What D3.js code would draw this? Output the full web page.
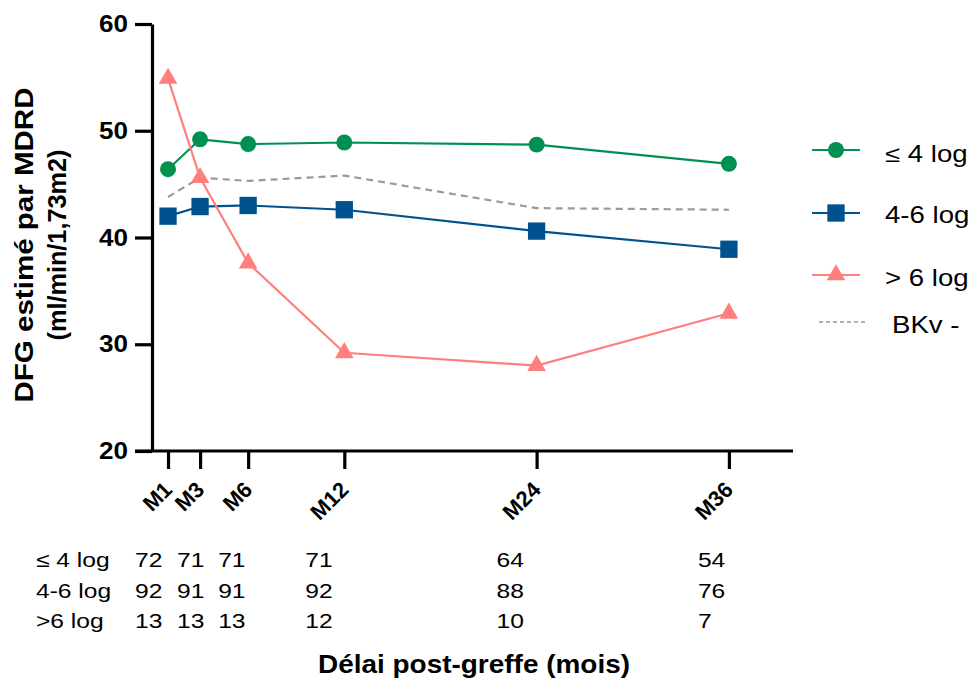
<!DOCTYPE html>
<html>
<head>
<meta charset="utf-8">
<script src="https://cdn.jsdelivr.net/npm/d3@7"></script>
<style>
  body { margin: 0; background: #fff; }
  svg { display: block; font-family: "Liberation Sans", Arial, sans-serif; }
</style>
</head>
<body>
<div id="chart"></div>
<script>
// months post-graft and their tick labels
const months = [1, 3, 6, 12, 24, 36];
const tickLabels = ['M1', 'M3', 'M6', 'M12', 'M24', 'M36'];

// DFG (ml/min/1,73m2) per BK viral load group
const lowLoad = [46.4, 49.2, 48.75, 48.9, 48.7, 46.9];    // ≤ 4 log
const midLoad = [42.0, 42.9, 43.0, 42.6, 40.6, 38.9];    // 4-6 log
const highLoad = [54.9, 45.6, 37.6, 29.2, 28.0, 32.9];   // > 6 log
const bkvNeg = [43.8, 45.6, 45.3, 45.8, 42.75, 42.6];    // BKv -

// patients at risk
const nLow = [72, 71, 71, 71, 64, 54];
const nMid = [92, 91, 91, 92, 88, 76];
const nHigh = [13, 13, 13, 12, 10, 7];

const yTicks = [20, 30, 40, 50, 60];

const W = 974, H = 683;
const FONT = '"Liberation Sans", Arial, sans-serif';
const STRETCH = 1.2; // text in the original is a bit wider than Arial

const svg = d3.select('#chart').append('svg')
    .attr('width', W)
    .attr('height', H);

const x = d3.scaleLinear().domain([0, 40]).range([152, 793]);
const y = d3.scaleLinear().domain([20, 60]).range([451, 24]);

// axes
const yAxis = svg.append('g')
    .attr('transform', `translate(${x(0)},0)`)
    .call(d3.axisLeft(y).tickValues(yTicks).tickSize(17).tickPadding(7).tickSizeOuter(0));
yAxis.select('.domain').attr('stroke-width', 3.2);
yAxis.selectAll('.tick line').attr('stroke-width', 3.2);
yAxis.selectAll('.tick text')
    .attr('font-family', FONT)
    .attr('font-weight', 'bold')
    .attr('font-size', 24)
    .attr('fill', '#000')
    .attr('textLength', 29)
    .attr('lengthAdjust', 'spacingAndGlyphs');

const xAxis = svg.append('g')
    .attr('transform', `translate(0,${y(20)})`)
    .call(d3.axisBottom(x).tickValues(months).tickSize(18).tickFormat((d, i) => tickLabels[i]).tickSizeOuter(0));
xAxis.select('.domain').attr('stroke-width', 3.2).attr('d', `M${x(0) - 17},0H${x(40)}`);
xAxis.selectAll('.tick line').attr('stroke-width', 3.2);
xAxis.selectAll('.tick text')
    .attr('font-family', FONT)
    .attr('font-weight', 'bold')
    .attr('font-size', 22)
    .attr('fill', '#000')
    .attr('text-anchor', 'end')
    .attr('dy', null)
    .attr('y', 0)
    .attr('transform', 'translate(5,40) rotate(-45)');

// series
const series = [
    { name: 'BKv -', values: bkvNeg, color: '#9a9a9a', dash: '7,5', symbol: null },
    { name: '≤ 4 log', values: lowLoad, color: '#009150', dash: null, symbol: 'circle' },
    { name: '4-6 log', values: midLoad, color: '#00528f', dash: null, symbol: 'square' },
    { name: '> 6 log', values: highLoad, color: '#ff7f7c', dash: null, symbol: 'triangle' },
];

const symbolFor = {
    circle: d3.symbol().type(d3.symbolCircle).size(200),
    square: d3.symbol().type(d3.symbolSquare).size(300),
    triangle: d3.symbol().type(d3.symbolTriangle).size(150),
};

const line = d3.line()
    .x((d) => x(d.m))
    .y((d) => y(d.v));

series.forEach((s) => {
    const pts = months.map((m, i) => ({ m, v: s.values[i] }));
    const g = svg.append('g');
    g.append('path')
        .datum(pts)
        .attr('d', line)
        .attr('fill', 'none')
        .attr('stroke', s.color)
        .attr('stroke-width', 2.2)
        .attr('stroke-dasharray', s.dash);
    if (s.symbol) {
        g.selectAll('path.marker')
            .data(pts)
            .join('path')
            .attr('class', 'marker')
            .attr('d', symbolFor[s.symbol])
            .attr('transform', (d) => `translate(${x(d.m)},${y(d.v)})`)
            .attr('fill', s.color);
    }
});

// legend
const legendRows = [
    { s: series[1], y: 150, ty: 162, tx: 885 },
    { s: series[2], y: 213, ty: 223, tx: 885 },
    { s: series[3], y: 275, ty: 286, tx: 885 },
    { s: series[0], y: 322, ty: 333, tx: 892 },
];
const legend = svg.append('g');
legendRows.forEach((r) => {
    const isDash = !!r.s.dash;
    legend.append('line')
        .attr('x1', isDash ? 819 : 812)
        .attr('x2', isDash ? 867 : 860)
        .attr('y1', r.y).attr('y2', r.y)
        .attr('stroke', r.s.color)
        .attr('stroke-width', isDash ? 1.6 : 2.2)
        .attr('stroke-dasharray', isDash ? '4,3' : null);
    if (r.s.symbol) {
        legend.append('path')
            .attr('d', symbolFor[r.s.symbol])
            .attr('transform', `translate(836,${r.y})`)
            .attr('fill', r.s.color);
    }
    legend.append('text')
        .attr('transform', `translate(${r.tx},${r.ty}) scale(${STRETCH},1)`)
        .attr('font-family', FONT)
        .attr('font-size', 23)
        .text(r.s.name);
});

// y axis title
const yTitle = svg.append('text')
    .attr('transform', 'translate(33,245) rotate(-90)')
    .attr('text-anchor', 'middle')
    .attr('font-family', FONT)
    .attr('font-weight', 'bold')
    .attr('font-size', 26);
yTitle.append('tspan').attr('x', 0).attr('y', 0)
    .attr('textLength', 315).attr('lengthAdjust', 'spacingAndGlyphs')
    .text('DFG estimé par MDRD');
yTitle.append('tspan').attr('x', 0).attr('y', 33)
    .attr('textLength', 191).attr('lengthAdjust', 'spacingAndGlyphs')
    .text('(ml/min/1,73m2)');

// table of patients at risk
const tableRows = [
    { label: '≤ 4 log', n: nLow, baseline: 567 },
    { label: '4-6 log', n: nMid, baseline: 598 },
    { label: '>6 log', n: nHigh, baseline: 628 },
];
const colOffset = [-33, -23, -30, -39, -40, -31];
const table = svg.append('g')
    .attr('font-family', FONT)
    .attr('font-size', 20.5);
tableRows.forEach((r) => {
    table.append('text')
        .attr('transform', `translate(36,${r.baseline}) scale(${STRETCH},1)`)
        .text(r.label);
    r.n.forEach((v, i) => {
        table.append('text')
            .attr('transform', `translate(${x(months[i]) + colOffset[i]},${r.baseline}) scale(${STRETCH},1)`)
            .text(v);
    });
});

// x axis title
svg.append('text')
    .attr('x', 474)
    .attr('y', 673)
    .attr('text-anchor', 'middle')
    .attr('font-family', FONT)
    .attr('font-weight', 'bold')
    .attr('font-size', 25)
    .attr('textLength', 312)
    .attr('lengthAdjust', 'spacingAndGlyphs')
    .text('Délai post-greffe (mois)');
</script>
</body>
</html>
